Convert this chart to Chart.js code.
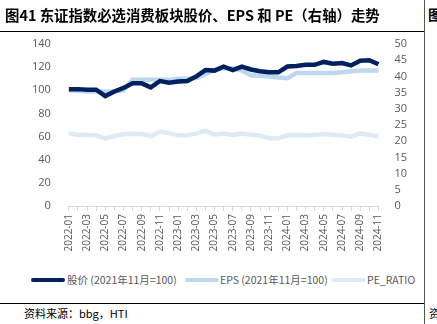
<!DOCTYPE html>
<html>
<head>
<meta charset="utf-8">
<script src="https://cdn.jsdelivr.net/npm/chart.js@4.4.0/dist/chart.umd.min.js"></script>
<style>
  body { margin: 0; background: #fff; width: 437px; height: 324px; overflow: hidden; position: relative; font-family: "Noto Sans CJK SC", sans-serif; }
  #title { position: absolute; left: 5px; top: 4px; font-size: 14.4px; font-weight: bold; color: #000; white-space: nowrap; z-index: 2; }
  #title2 { position: absolute; left: 428px; top: 4px; font-size: 14px; font-weight: bold; }
  .hline { position: absolute; height: 1px; background: #000; z-index: 2; }
  #vline { position: absolute; left: 424px; top: 0; width: 1px; height: 324px; background: #555; }
  #src { position: absolute; left: 24px; top: 305px; font-size: 11px; color: #000; }
  #src2 { position: absolute; left: 429px; top: 305px; font-size: 11px; }
  #wrap { position: absolute; left: 0; top: 11px; width: 424px; height: 244px; }
  #legenda { position: absolute; top: 272px; left: 0; height: 16px; font-size: 10.5px; color: #595959; }
  .item { position: absolute; top: 0; white-space: nowrap; line-height: 16px; }
  .amostra { position: absolute; top: 6px; height: 4px; width: 34px; border-radius: 2px; }
</style>
</head>
<body>
<div id="title">图41 东证指数必选消费板块股价、EPS 和 PE（右轴）走势</div>
<div id="title2">图</div>
<div class="hline" style="left:0;top:31px;width:424px;"></div>
<div class="hline" style="left:0;top:303px;width:424px;"></div>
<div id="vline"></div>
<div id="src">资料来源：bbg，HTI</div>
<div id="src2">资</div>
<div id="wrap"><canvas id="myChart"></canvas></div>
<div id="legenda"></div>
<script>
const months = [
    '2022-01','2022-02','2022-03','2022-04','2022-05','2022-06','2022-07','2022-08','2022-09','2022-10','2022-11','2022-12',
    '2023-01','2023-02','2023-03','2023-04','2023-05','2023-06','2023-07','2023-08','2023-09','2023-10','2023-11','2023-12',
    '2024-01','2024-02','2024-03','2024-04','2024-05','2024-06','2024-07','2024-08','2024-09','2024-10','2024-11'
];
const precoIndice = [101, 101, 100.5, 100.5, 95, 99, 102, 106, 106, 102.5, 108, 106.5,
    107.5, 108, 112, 117.5, 117, 120.5, 117.5, 120.5, 118, 116.5, 115.5, 115.5,
    120.5, 121, 122, 122, 124.5, 123, 123.5, 121.5, 125.5, 126, 122.5];
const epsIndice = [100, 99.5, 99, 99, 99, 99, 100, 109, 109, 109, 109, 109,
    110, 110, 110.5, 114, 117.5, 119, 119, 117, 113, 112.5, 112, 111,
    110.5, 115, 115, 115, 115, 115, 115.5, 116.5, 117, 117, 117];
const peRatio = [22.4, 22, 21.9, 21.8, 20.8, 21.6, 22.2, 22.3, 22.2, 21.6, 23, 22.5,
    21.8, 21.8, 22.4, 23.2, 22, 22.4, 21.9, 22.4, 22, 21.8, 20.9, 20.8,
    21.8, 21.8, 21.8, 21.9, 22.2, 22, 21.8, 21.4, 22.4, 22, 21.5];

const corTexto = '#595959';
const fonteEixo = '"Open Sans", sans-serif';

const dataset = {
    labels: months,
    datasets: [
        {
            label: '股价 (2021年11月=100)',
            data: precoIndice,
            borderColor: '#002060',
            borderWidth: 4.5,
            pointRadius: 0,
            yAxisID: 'y',
        },
        {
            label: 'EPS (2021年11月=100)',
            data: epsIndice,
            borderColor: '#BDD7EE',
            borderWidth: 4.5,
            pointRadius: 0,
            yAxisID: 'y',
        },
        {
            label: 'PE_RATIO',
            data: peRatio,
            borderColor: '#DEEBF7',
            borderWidth: 4.5,
            pointRadius: 0,
            yAxisID: 'y1',
        }
    ]
};

// legenda manual numa linha so
const posLegenda = [[31, 67], [185, 220], [332, 367]];
let legenda = document.getElementById('legenda');
dataset.datasets.forEach(function(ds, i) {
    let amostra = document.createElement('div');
    amostra.className = 'amostra';
    amostra.style.left = posLegenda[i][0] + 'px';
    amostra.style.background = ds.borderColor;
    legenda.appendChild(amostra);
    let item = document.createElement('div');
    item.className = 'item';
    item.style.left = posLegenda[i][1] + 'px';
    item.textContent = ds.label;
    legenda.appendChild(item);
});

let ctx = document.getElementById('myChart').getContext('2d');
new Chart(ctx, {
    type: 'line',
    data: dataset,
    options: {
        responsive: true,
        maintainAspectRatio: false,
        animation: false,
        layout: { padding: { left: 22, right: 9, top: 33, bottom: 0 } },
        plugins: {
            legend: { display: false },
            tooltip: { enabled: false }
        },
        scales: {
            x: {
                offset: false,
                grid: { drawOnChartArea: false, color: '#d9d9d9', tickLength: 5 },
                border: { color: '#d9d9d9' },
                afterFit: function(scale) { scale.height = 49; },
                ticks: {
                    autoSkip: false,
                    maxRotation: 90,
                    minRotation: 90,
                    color: corTexto,
                    font: { size: 10, family: fonteEixo },
                    callback: function(val, i) { return i % 2 === 0 ? this.getLabelForValue(val) : ''; }
                }
            },
            y: {
                position: 'left',
                min: 0, max: 140,
                grid: { display: false },
                border: { display: false },
                ticks: { stepSize: 20, autoSkip: false, color: corTexto, padding: 10, font: { size: 11, family: fonteEixo, lineHeight: 1.1 } }
            },
            y1: {
                position: 'right',
                min: 0, max: 50,
                grid: { display: false },
                border: { display: false },
                ticks: { stepSize: 5, autoSkip: false, color: corTexto, padding: 8, font: { size: 11, family: fonteEixo, lineHeight: 1.1 } }
            }
        }
    }
});
</script>
</body>
</html>
